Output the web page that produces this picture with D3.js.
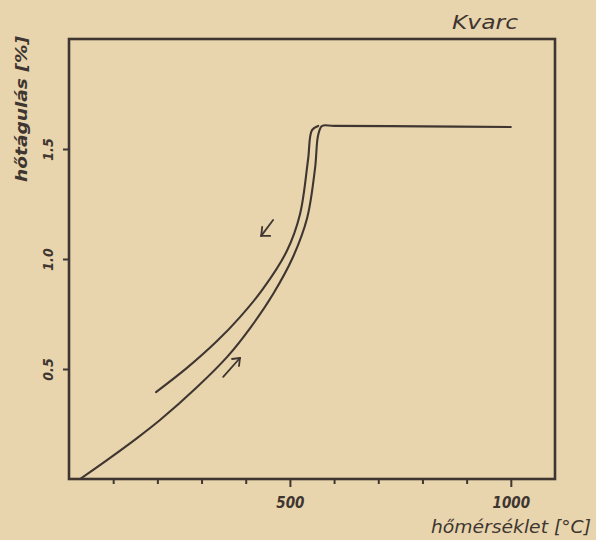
<!DOCTYPE html>
<html>
<head>
<meta charset="utf-8">
<script src="https://cdn.jsdelivr.net/npm/d3@7"></script>
<style>
  html, body { margin: 0; padding: 0; background: #e8d5ad; }
  svg { display: block; }
</style>
</head>
<body>
<svg id="chart" width="596" height="540"></svg>
<script>
// ---- data ----
const title = "Kvarc";
const xTitle = "hőmérséklet [°C]";
const yTitle = "hőtágulás [%]";
const xMajorTicks = [500, 1000];
const xMinorTicks = [100, 200, 300, 400, 600, 700, 800, 900];
const yTicks = [0.5, 1.0, 1.5];
const yTickLabels = ["0.5", "1.0", "1.5"];

// heating curve (temperature °C, expansion %)
const heatT = [25, 86, 154, 206, 290, 358, 410, 462, 507, 539, 557, 564, 573, 600, 800, 1000];
const heatE = [0, 0.086, 0.186, 0.268, 0.418, 0.555, 0.686, 0.841, 1.009, 1.186, 1.414, 1.564, 1.605, 1.605, 1.603, 1.600];
// cooling curve
const coolT = [197, 267, 335, 387, 439, 493, 523, 541, 550, 564];
const coolE = [0.395, 0.505, 0.627, 0.736, 0.864, 1.036, 1.205, 1.45, 1.586, 1.605];

// direction arrows [fromT, fromE, toT, toE]
const arrowCool = [462, 1.177, 435, 1.105];
const arrowHeat = [349, 0.464, 387, 0.55];

// ---- drawing ----
const ink = "#3f3631";
const svg = d3.select("#chart");
const x = d3.scaleLinear().domain([0, 1100]).range([69, 555]);
const y = d3.scaleLinear().domain([0, 2.0]).range([479, 39]);

// frame
svg.append("rect")
  .attr("x", x(0)).attr("y", y(2.0))
  .attr("width", x(1100) - x(0)).attr("height", y(0) - y(2.0))
  .attr("fill", "none").attr("stroke", ink).attr("stroke-width", 2.6);

// x axis ticks
const xMinorAxis = d3.axisBottom(x).tickValues(xMinorTicks).tickSize(5).tickFormat("");
const xMajorAxis = d3.axisBottom(x).tickValues(xMajorTicks).tickSize(8).tickPadding(8).tickFormat(d3.format("d"));
const gxm = svg.append("g").attr("transform", `translate(0,${y(0)})`).call(xMinorAxis);
const gxM = svg.append("g").attr("transform", `translate(0,${y(0)})`).call(xMajorAxis);
[gxm, gxM].forEach(g => {
  g.select(".domain").remove();
  g.selectAll(".tick line").attr("stroke", ink).attr("stroke-width", 2);
});
gxM.selectAll(".tick text")
  .attr("fill", ink)
  .attr("font-family", "'DejaVu Sans Condensed', 'DejaVu Sans', sans-serif")
  .attr("font-style", "italic").attr("font-weight", "bold")
  .attr("font-size", 15)
  .attr("dy", "0.85em");

// y axis ticks
const yAxis = d3.axisLeft(y).tickValues(yTicks).tickSize(6).tickFormat((d, i) => yTickLabels[i]);
const gy = svg.append("g").attr("transform", `translate(${x(0)},0)`).call(yAxis);
gy.select(".domain").remove();
gy.selectAll(".tick line").attr("stroke", ink).attr("stroke-width", 2);
gy.selectAll(".tick text")
  .attr("fill", ink)
  .attr("font-family", "'DejaVu Sans Condensed', 'DejaVu Sans', sans-serif")
  .attr("font-style", "italic").attr("font-weight", "bold")
  .attr("font-size", 14)
  .attr("x", null).attr("dy", null)
  .attr("text-anchor", "middle")
  .attr("transform", "translate(-16,0) rotate(-90)");

// curves
const line = d3.line().x(d => x(d[0])).y(d => y(d[1])).curve(d3.curveCatmullRom.alpha(0.5));
const heat = heatT.map((t, i) => [t, heatE[i]]);
const cool = coolT.map((t, i) => [t, coolE[i]]);
[heat, cool].forEach(data => {
  svg.append("path").datum(data).attr("d", line)
    .attr("fill", "none").attr("stroke", ink).attr("stroke-width", 2.1)
    .attr("stroke-linejoin", "round").attr("stroke-linecap", "round");
});

// arrows
function drawArrow(a, headDirs) {
  const x1 = x(a[0]), y1 = y(a[1]), x2 = x(a[2]), y2 = y(a[3]);
  const g = svg.append("g").attr("stroke", ink).attr("stroke-width", 1.8)
    .attr("fill", "none").attr("stroke-linecap", "round");
  g.append("line").attr("x1", x1).attr("y1", y1).attr("x2", x2).attr("y2", y2);
  headDirs.forEach(h => {
    g.append("line").attr("x1", x2).attr("y1", y2).attr("x2", x2 + h[0]).attr("y2", y2 + h[1]);
  });
}
drawArrow(arrowCool, [[1, -9], [9, 0]]);
drawArrow(arrowHeat, [[-8, 1], [-1, 8]]);

// titles
const tf = "'DejaVu Sans', sans-serif";
svg.append("text").text(title)
  .attr("x", 452).attr("y", 29)
  .attr("textLength", 66).attr("lengthAdjust", "spacingAndGlyphs")
  .attr("font-family", tf).attr("font-style", "italic").attr("font-size", 20)
  .attr("fill", ink);

svg.append("text").text(xTitle)
  .attr("x", 431).attr("y", 533)
  .attr("textLength", 160).attr("lengthAdjust", "spacingAndGlyphs")
  .attr("font-family", tf).attr("font-style", "italic").attr("font-size", 17)
  .attr("fill", ink);

svg.append("text").text(yTitle)
  .attr("transform", "translate(27,182) rotate(-90)")
  .attr("textLength", 146).attr("lengthAdjust", "spacingAndGlyphs")
  .attr("font-family", tf).attr("font-style", "italic").attr("font-weight", "bold").attr("font-size", 16)
  .attr("fill", ink);
</script>
</body>
</html>
